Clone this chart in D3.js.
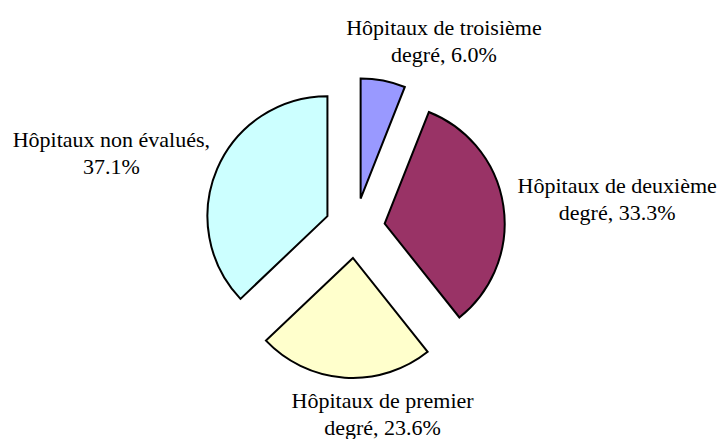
<!DOCTYPE html>
<html>
<head>
<meta charset="utf-8">
<script src="https://cdn.jsdelivr.net/npm/d3@7"></script>
</head>
<body style="margin:0">
<div id="chart"></div>
<script>
// data, clockwise from 12 o'clock
const categories = ["Hôpitaux de troisième degré", "Hôpitaux de deuxième degré", "Hôpitaux de premier degré", "Hôpitaux non évalués"]
const values = [6.0, 33.3, 23.6, 37.1]
const labelLines = [
    ["Hôpitaux de troisième", "degré, 6.0%"],
    ["Hôpitaux de deuxième", "degré, 33.3%"],
    ["Hôpitaux de premier", "degré, 23.6%"],
    ["Hôpitaux non évalués,", "37.1%"]
]
const colors = ["#9999ff", "#993366", "#ffffcc", "#ccffff"]

// layout
const width = 720, height = 439
const center = {x: 355, y: 228}
const radius = 120
const explode = 30
const labelRadius = 165
// nudge of each label from its anchor point on the label radius
const labelNudge = [[58, -31], [99, -11], [39, 15], [-92, -16]]
const lineHeight = 27

const data = categories.map((c, i) => ({category: c, value: values[i], lines: labelLines[i], color: colors[i]}))

const pie = d3.pie()
    .sort(null)
    .value(d => d.value)

const arc = d3.arc()
    .innerRadius(0)
    .outerRadius(radius)

const arcs = pie(data)
const midAngle = d => (d.startAngle + d.endAngle) / 2

const svg = d3.select("#chart").append("svg")
    .attr("width", width)
    .attr("height", height)

svg.selectAll("path")
    .data(arcs)
    .join("path")
    .attr("transform", d => {
        const a = midAngle(d)
        return `translate(${center.x + Math.sin(a) * explode},${center.y - Math.cos(a) * explode})`
    })
    .attr("d", arc)
    .attr("fill", d => d.data.color)
    .attr("stroke", "#000")
    .attr("stroke-width", 2)
    .attr("stroke-linejoin", "miter")

const lines = []
arcs.forEach((d, i) => {
    const a = midAngle(d)
    const x = center.x + Math.sin(a) * labelRadius + labelNudge[i][0]
    const y = center.y - Math.cos(a) * labelRadius + labelNudge[i][1]
    d.data.lines.forEach((t, j) => lines.push({text: t, x, y: y + j * lineHeight}))
})

// centre each line by its measured width instead of text-anchor
svg.selectAll("text")
    .data(lines)
    .join("text")
    .attr("y", d => d.y)
    .attr("style", "font-family: 'Times New Roman', 'Liberation Serif', Tinos; font-size: 22px")
    .text(d => d.text)
    .attr("x", function(d) { return d.x - this.getComputedTextLength() / 2 })
</script>
</body>
</html>
